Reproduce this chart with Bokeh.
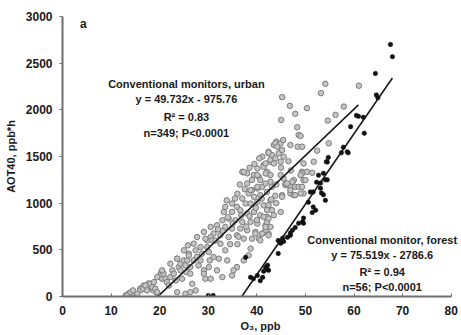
from bokeh.plotting import figure
from bokeh.models import Label, FixedTicker, Range1d
from bokeh.embed import file_html
from bokeh.resources import INLINE

# ---------------- data ----------------
urban_points = [
    (13.0, 11), (13.6, 32), (14.4, 32), (16.0, 86), (16.7, 118), (17.5, 97), (17.7, 140), (18.5, 86),
    (18.7, 65), (19.5, 32), (20.2, 247),
    (13.3, 11), (14.0, 46), (14.5, 65), (16.0, 65), (16.6, 82), (17.1, 118), (17.4, 65), (18.1, 136),
    (18.5, 100), (18.8, 154), (19.1, 82), (19.5, 46), (20.2, 226), (20.5, 190), (20.8, 244), (21.2, 190),
    (21.5, 154), (21.9, 118), (22.2, 208), (22.6, 280), (22.9, 244), (23.3, 172), (23.6, 405), (23.9, 315),
    (24.3, 351), (24.6, 190), (25.0, 387), (25.3, 333), (25.5, 261), (25.8, 548), (26.0, 459), (26.3, 315),
    (26.7, 136), (27.0, 387), (27.4, 495), (27.7, 423), (28.0, 333), (28.4, 530), (28.7, 459), (29.1, 280),
    (29.4, 190), (29.8, 602), (30.1, 477), (30.3, 387), (25.3, 29), (26.3, 46), (27.4, 65), (23.6, 46),
    (15.4, 29),
    (42.4, 1534), (41.1, 1498), (41.4, 1408), (42.8, 1444), (40.1, 1372), (42.1, 1319), (37.2, 1330),
    (40.4, 1283), (38.0, 1211), (39.0, 1140), (40.1, 1158), (41.1, 1175), (38.3, 1104), (39.4, 1068),
    (40.7, 1086), (42.1, 1121), (42.8, 1032), (37.0, 1050), (37.7, 996), (38.7, 996), (40.1, 1014),
    (41.4, 978), (42.4, 943), (34.9, 996), (35.9, 960), (33.5, 960), (33.2, 906), (34.9, 906), (36.6, 925),
    (38.0, 889), (39.4, 906), (40.7, 871), (42.1, 853), (32.9, 817), (34.2, 835), (35.6, 817), (37.0, 799),
    (38.7, 799), (40.1, 781), (41.8, 763), (31.8, 763), (33.5, 745), (34.9, 728), (36.6, 728), (38.0, 710),
    (39.7, 692), (41.1, 674), (42.4, 674), (31.1, 674), (32.5, 656), (34.2, 638), (35.9, 656), (37.3, 620),
    (39.0, 620), (40.4, 620), (29.4, 620), (30.5, 638),
    (54.1, 2279), (53.2, 2179), (45.2, 2136), (46.8, 2043), (50.3, 2018), (57.9, 2035), (47.9, 1957),
    (56.2, 1946), (45.0, 1892), (54.6, 1885), (48.3, 1813), (48.6, 1731), (44.0, 1659), (43.5, 1623),
    (44.9, 1641), (45.4, 1677), (46.9, 1623), (48.4, 1605), (54.8, 1641), (42.4, 1551), (43.1, 1516),
    (43.8, 1480), (42.8, 1462), (44.5, 1534), (45.2, 1570), (45.5, 1498), (44.9, 1444), (43.5, 1426),
    (52.4, 1562), (51.7, 1444), (39.4, 1301), (41.4, 1390), (42.1, 1336), (42.8, 1301), (40.7, 1247),
    (41.8, 1211), (40.1, 1175), (38.7, 1140), (38.0, 1319), (37.0, 1336), (49.3, 1336), (49.6, 1247),
    (47.6, 1247), (46.9, 1175), (45.9, 1193),
    (45.9, 1211), (47.3, 1229), (47.9, 1175), (45.2, 1086), (46.9, 1104), (47.6, 1086), (48.6, 1175),
    (42.4, 978), (43.1, 925), (41.4, 853), (42.1, 799), (42.8, 745), (41.8, 710), (41.1, 674), (42.4, 656),
    (43.5, 871), (44.9, 906),
    (37.3, 1336), (40.1, 1301), (41.8, 1319), (42.8, 1229), (44.9, 1301), (45.5, 1265), (46.2, 1211),
    (46.9, 1140), (49.3, 1319), (49.6, 1104), (47.9, 1086), (45.2, 1068), (43.1, 1175), (42.1, 925),
    (42.4, 835), (41.8, 745), (40.7, 602), (39.7, 674), (38.7, 513), (38.3, 441), (35.9, 315), (34.9, 226),
    (32.9, 208), (31.8, 280), (32.2, 405), (30.5, 190), (28.4, 387), (26.3, 244), (23.6, 405), (22.2, 351),
    (20.5, 280), (19.5, 208),
    (29.8, 530), (30.8, 602), (32.5, 566), (33.5, 495), (31.1, 423), (33.9, 387), (30.1, 315), (29.1, 244),
    (35.2, 280), (37.3, 387), (25.0, 495), (27.0, 566), (25.7, 387), (27.7, 638), (24.3, 280), (29.1, 692),
    (30.5, 745), (26.0, 441),
    (61.0, 2258), (49.0, 1720), (49.3, 1605), (49.6, 1426), (50.3, 1336), (51.4, 1326), (49.0, 1301),
    (50.0, 1247), (49.3, 1175), (49.0, 1104), (43.8, 1641), (44.2, 1605), (42.4, 1541), (41.8, 1426),
    (36.0, 1100), (37.5, 1150), (39.0, 1250), (35.5, 1050), (36.8, 870), (39.8, 950), (41.0, 1050),
    (43.8, 1080), (44.0, 1000), (38.5, 860), (34.0, 850), (35.0, 780), (33.0, 700), (31.5, 600),
    (32.0, 720), (34.5, 560), (36.2, 640), (37.8, 750), (40.0, 820), (43.0, 1040), (45.0, 1380),
    (46.5, 1450), (47.0, 1350), (44.0, 1200), (39.5, 1420), (40.5, 1480), (38.5, 1380), (36.5, 1200),
    (33.8, 1030), (36.0, 560),
]
urban_x = [p[0] for p in urban_points]
urban_y = [p[1] for p in urban_points]

forest_points = [
    (67.5, 2700), (67.9, 2570), (64.4, 2390), (64.6, 2160), (64.9, 2130), (60.5, 1940), (60.9, 1930),
    (61.9, 1920), (59.3, 1820), (62.1, 1750), (57.8, 1600), (57.4, 1540), (58.8, 1540), (58.6, 1550),
    (54.7, 1490), (54.5, 1440), (54.3, 1445), (51.0, 1120), (51.6, 1120), (53.3, 1110), (53.7, 1090),
    (54.1, 1030), (51.6, 960), (52.1, 925), (51.4, 900), (49.4, 800), (49.6, 785), (48.6, 785),
    (47.3, 710), (46.9, 680), (45.3, 625), (45.5, 590), (44.4, 600), (44.9, 570), (44.4, 460),
    (41.8, 310), (42.2, 290), (42.4, 280), (41.4, 270), (41.2, 205), (40.7, 170), (37.7, 420),
    (38.7, 205), (39.3, 190), (40.1, 225), (42.2, 335), (46.3, 635), (46.9, 655), (47.9, 740),
    (30.0, 10), (31.0, 10), (53.1, 1160), (52.7, 1300), (53.7, 1320), (54.1, 1250), (53.1, 1215),
    (50.6, 1010), (49.6, 840), (52.3, 1225), (54.5, 1250),
]
forest_x = [p[0] for p in forest_points]
forest_y = [p[1] for p in forest_points]

# regression fits: slope, intercept, x-range of drawn line
urban_fit = {"slope": 49.732, "intercept": -975.76, "x_end": 60.9}
forest_fit = {"slope": 75.519, "intercept": -2786.6, "x_end": 67.9}

x_ticks = [0, 10, 20, 30, 40, 50, 60, 70, 80]
y_ticks = [0, 500, 1000, 1500, 2000, 2500, 3000]

urban_text = ["Conventional monitors, urban", "y = 49.732x - 975.76", "R\u00b2 = 0.83", "n=349; P<0.0001"]
forest_text = ["Conventional monitor, forest", "y = 75.519x - 2786.6", "R\u00b2 = 0.94", "n=56; P<0.0001"]

FONT = "Liberation Sans"

# frame runs slightly past 80 so the right-hand label is not clipped; the axis itself stops at 80
p = figure(width=461, height=335, output_backend="svg", toolbar_location=None,
           x_range=Range1d(0, 81.5), y_range=Range1d(0, 3000),
           min_border_left=62, min_border_right=3, min_border_top=16, min_border_bottom=39)
p.outline_line_color = None
p.grid.visible = False
p.background_fill_color = "white"

# points
p.scatter(urban_x, urban_y, marker="circle", size=5.5, fill_color="#c4c4c4",
          line_color="#7c7c7c", line_width=1)

# fit lines: from the x-intercept to the end of the data range
for fit in (urban_fit, forest_fit):
    x0 = -fit["intercept"] / fit["slope"]
    xs = [x0, fit["x_end"]]
    ys = [fit["slope"] * x + fit["intercept"] for x in xs]
    p.line(xs, ys, line_color="#1a1a1a", line_width=1.6)

p.scatter(forest_x, forest_y, marker="circle", size=4.5, fill_color="#111111",
          line_color="#111111", line_width=0.5)

# axes
for ax in (p.xaxis[0], p.yaxis[0]):
    ax.axis_line_color = "#6e6e6e"
    ax.axis_line_width = 2
    ax.major_tick_line_color = "#6e6e6e"
    ax.major_tick_line_width = 1
    ax.minor_tick_line_color = None
    ax.major_label_text_font = FONT
    ax.major_label_text_font_style = "bold"
    ax.major_label_text_font_size = "12px"
    ax.major_label_text_color = "#1a1a1a"
    ax.axis_label_text_font = FONT
    ax.axis_label_text_font_style = "bold"
    ax.axis_label_text_font_size = "11px"
    ax.axis_label_text_color = "#1a1a1a"

p.xaxis.bounds = (0, 80)
p.xaxis.ticker = FixedTicker(ticks=x_ticks)
p.yaxis.ticker = FixedTicker(ticks=y_ticks)
p.xaxis.major_tick_in = 3
p.xaxis.major_tick_out = 0
p.yaxis.major_tick_in = 0
p.yaxis.major_tick_out = 3
p.xaxis.major_label_standoff = 9
p.yaxis.major_label_standoff = 7
p.xaxis.axis_label = "O\u2083, ppb"
p.yaxis.axis_label = "AOT40, ppb*h"
p.xaxis.axis_label_standoff = 2
p.yaxis.axis_label_standoff = 6

# annotations
def add_block(lines, x, ys):
    for t, y in zip(lines, ys):
        p.add_layout(Label(x=x, y=y, text=t, text_align="center", text_baseline="middle",
                           text_font=FONT, text_font_style="bold", text_font_size="11px",
                           text_color="#1a1a1a"))

add_block(urban_text, 25.5, [2279, 2118, 1924, 1752])
add_block(forest_text, 65.8, [602, 441, 258, 97])
p.add_layout(Label(x=4.3, y=2924, text="a", text_align="center", text_baseline="middle",
                   text_font=FONT, text_font_style="bold", text_font_size="12px", text_color="#1a1a1a"))

open("out.html", "w").write(file_html(p, INLINE))
